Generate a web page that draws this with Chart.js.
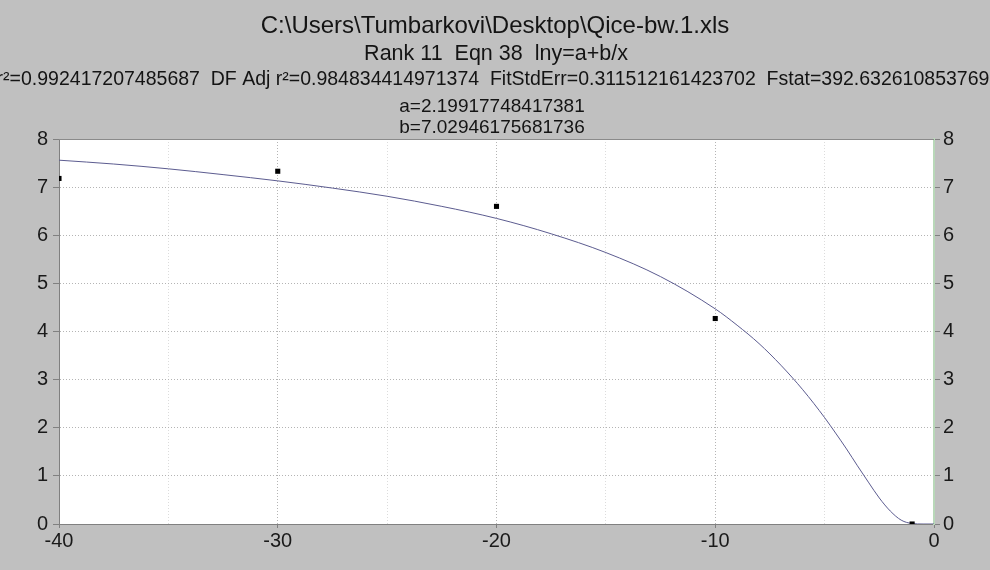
<!DOCTYPE html>
<html>
<head>
<meta charset="utf-8">
<script src="https://cdn.jsdelivr.net/npm/chart.js@4.4.1/dist/chart.umd.min.js"></script>
<style>
  html, body { margin: 0; padding: 0; background: #c0c0c0; }
  canvas { display: block; }
</style>
</head>
<body>
<canvas id="fit" width="990" height="570"></canvas>
<script>
// header text
const titleText = "C:\\Users\\Tumbarkovi\\Desktop\\Qice-bw.1.xls";
const rankText = "Rank 11  Eqn 38  lny=a+b/x";
const statsText = "r\u00b2=0.992417207485687  DF Adj r\u00b2=0.984834414971374  FitStdErr=0.311512161423702  Fstat=392.632610853769";
const paramA = "a=2.19917748417381";
const paramB = "b=7.02946175681736";

// fitted curve
const fitX = [-40, -37.5, -35, -32.5, -30, -27.5, -25, -22.5, -20, -17.5, -15, -12.5, -10, -9, -8, -7, -6, -5, -4.5, -4, -3.5, -3, -2.5, -2, -1.5, -1, -0.5, 0];
const fitY = [7.56, 7.48, 7.38, 7.26, 7.13, 6.98, 6.81, 6.60, 6.35, 6.03, 5.64, 5.14, 4.47, 4.13, 3.75, 3.30, 2.79, 2.21, 1.89, 1.56, 1.21, 0.87, 0.54, 0.27, 0.08, 0.01, 0, 0];

// observed points
const obsX = [-40, -30, -20, -10, -1];
const obsY = [7.18, 7.33, 6.60, 4.27, 0.0];

// axis ranges
const xMin = -40, xMax = 0, xGrid = 5, xLabelStep = 10;
const yMin = 0, yMax = 8;

const font = "'Liberation Sans', Arial, sans-serif";

const backdrop = {
  id: "backdrop",
  beforeDraw(chart) {
    const ctx = chart.ctx;
    const a = chart.chartArea;
    ctx.save();
    ctx.fillStyle = "#c0c0c0";
    ctx.fillRect(0, 0, chart.width, chart.height);
    ctx.fillStyle = "#ffffff";
    ctx.fillRect(a.left, a.top, a.right - a.left, a.bottom - a.top);

    ctx.fillStyle = "#141414";
    ctx.textAlign = "center";
    ctx.textBaseline = "alphabetic";
    ctx.font = "24px " + font;
    ctx.fillText(titleText, 495, 33);
    ctx.font = "21.5px " + font;
    ctx.fillText(rankText, 496, 60);
    ctx.font = "19.5px " + font;
    ctx.fillText(statsText, 493, 85);
    ctx.font = "19px " + font;
    ctx.fillText(paramA, 492, 111.5);
    ctx.fillText(paramB, 492, 132.5);
    ctx.restore();
  },
  afterDraw(chart) {
    const ctx = chart.ctx;
    const a = chart.chartArea;
    ctx.save();
    ctx.strokeStyle = "#8a8a8a";
    ctx.lineWidth = 1;
    ctx.beginPath();
    ctx.moveTo(a.left, a.top + 0.5);
    ctx.lineTo(a.right, a.top + 0.5);
    ctx.stroke();
    ctx.restore();
  }
};

const tickFont = { family: font, size: 20 };

new Chart(document.getElementById("fit"), {
  type: "scatter",
  data: {
    datasets: [
      {
        label: "fit",
        data: fitX.map((x, i) => ({ x: x, y: fitY[i] })),
        showLine: true,
        borderColor: "#5c5c90",
        borderWidth: 1,
        pointRadius: 0,
        cubicInterpolationMode: "monotone",
        order: 2
      },
      {
        label: "data",
        data: obsX.map((x, i) => ({ x: x, y: obsY[i] })),
        pointStyle: "rect",
        pointRadius: 3.6,
        borderWidth: 0,
        backgroundColor: "#000000",
        order: 1
      }
    ]
  },
  options: {
    responsive: false,
    animation: false,
    layout: { padding: { top: 139, left: 0, right: 0, bottom: 0 } },
    plugins: {
      legend: { display: false },
      title: { display: false },
      tooltip: { enabled: false }
    },
    scales: {
      x: {
        type: "linear",
        position: "bottom",
        min: xMin,
        max: xMax,
        afterFit: (s) => { s.height = 46; },
        ticks: {
          stepSize: xGrid,
          color: "#1a1a1a",
          font: tickFont,
          padding: 1,
          maxRotation: 0,
          autoSkip: false,
          callback: (v) => (v % xLabelStep === 0 ? String(v) : "")
        },
        grid: {
          color: (c) => (c.tick && c.tick.value % xLabelStep === 0 ? "#b4b4b4" : "#dcdcdc"),
          tickColor: (c) => (c.tick && c.tick.value % xLabelStep === 0 ? "#808080" : "rgba(0,0,0,0)"),
          tickLength: 4,
          tickBorderDash: []
        },
        border: { color: "#808080", width: 1, dash: [1, 2] }
      },
      y: {
        type: "linear",
        position: "left",
        min: yMin,
        max: yMax,
        afterFit: (s) => { s.width = 59; },
        ticks: { stepSize: 1, color: "#1a1a1a", font: tickFont, padding: 5 },
        grid: {
          color: "#b4b4b4",
          tickColor: "#808080",
          tickLength: 6,
          tickBorderDash: []
        },
        border: { color: "#808080", width: 1, dash: [1, 2] }
      },
      y2: {
        type: "linear",
        position: "right",
        min: yMin,
        max: yMax,
        afterFit: (s) => { s.width = 56; },
        ticks: { stepSize: 1, color: "#1a1a1a", font: tickFont, padding: 3 },
        grid: {
          drawOnChartArea: false,
          tickColor: "#808080",
          tickLength: 6
        },
        border: { color: "#b9d8b9", width: 2 }
      }
    }
  },
  plugins: [backdrop]
});
</script>
</body>
</html>
